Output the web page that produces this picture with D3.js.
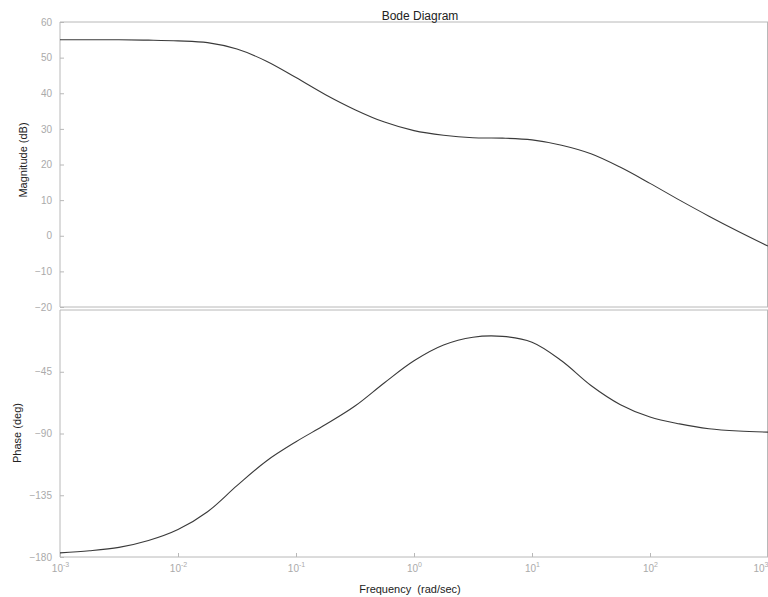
<!DOCTYPE html>
<html><head><meta charset="utf-8">
<script src="https://cdn.jsdelivr.net/npm/d3@7"></script>
<style>body{margin:0;background:#fff}svg{display:block}text{font-family:"Liberation Sans",Arial,sans-serif}</style>
</head><body><svg id="c" width="768" height="597"></svg>
<script>
const freq = [0.001,0.00178,0.00316,0.00562,0.01,0.0178,0.0316,0.0562,0.1,0.178,0.316,0.562,1,1.78,3.16,5.62,10,17.8,31.6,56.2,100,178,316,562,1000];
const magnitude = [55,55,55,54.9,54.7,54.2,52.4,49,44.4,39.6,35.4,31.9,29.5,28.2,27.5,27.4,26.9,25.4,23,19.2,14.7,10,5.5,1.2,-2.9];
const phase = [-177,-175.5,-173,-168,-160,-147,-128,-110,-96,-83.5,-70,-53,-37,-25.5,-19.8,-19.2,-23.5,-37,-55,-69,-78,-83,-86.5,-88.2,-89];
const magTicks = [60,50,40,30,20,10,0,-10,-20];
const phaseTicks = [-45,-90,-135,-180];
const freqTicks = [0.001,0.01,0.1,1,10,100,1000];

const svg = d3.select("#c");
const L = 60, R = 768;
const x = d3.scaleLog().domain([0.001,1000]).range([L,R]);
const yM = d3.scaleLinear().domain([-20,60]).range([307,22]);
const yP = d3.scaleLinear().domain([-180,0]).range([557,310]);
const axisCol = "#b8b8b8", labCol = "#aaa";

function frame(top, bot){
  const g = svg.append("g");
  g.append("line").attr("x1",L).attr("x2",R).attr("y1",top).attr("y2",top).attr("stroke",axisCol);
  g.append("line").attr("x1",L).attr("x2",R).attr("y1",bot).attr("y2",bot).attr("stroke",axisCol);
  g.append("line").attr("x1",L).attr("x2",L).attr("y1",top).attr("y2",bot).attr("stroke",axisCol);
  g.append("line").attr("x1",R-0.5).attr("x2",R-0.5).attr("y1",top).attr("y2",bot).attr("stroke",axisCol);
}
frame(yM.range()[1], yM.range()[0]);
frame(yP.range()[1], yP.range()[0]);

const ga = svg.append("g").attr("transform",`translate(${L},0)`)
  .call(d3.axisLeft(yM).tickValues(magTicks).tickSize(-4).tickPadding(8));
const gb = svg.append("g").attr("transform",`translate(${L},0)`)
  .call(d3.axisLeft(yP).tickValues(phaseTicks).tickSize(-4).tickPadding(8));
const gc = svg.append("g").attr("transform",`translate(0,557)`)
  .call(d3.axisBottom(x).tickValues(freqTicks).tickSize(-4).tickPadding(8).tickFormat(()=>""));
[ga,gb,gc].forEach(g=>{
  g.select(".domain").remove();
  g.selectAll(".tick line").attr("stroke",axisCol);
  g.selectAll(".tick text").attr("fill",labCol).attr("font-size",10).attr("font-family","Liberation Sans, Arial");
});
gc.selectAll(".tick").each(function(d,i){
  const t = d3.select(this).select("text");
  if (i === freqTicks.length-1) t.attr("text-anchor","end");
  t.append("tspan").text("10");
  t.append("tspan").attr("dy",-5).attr("font-size",7).text(Math.round(Math.log10(d)));
});

const lineM = d3.line().x((d,i)=>x(freq[i])).y(d=>yM(d)).curve(d3.curveCatmullRom);
const lineP = d3.line().x((d,i)=>x(freq[i])).y(d=>yP(d)).curve(d3.curveCatmullRom);
svg.append("path").attr("d",lineM(magnitude)).attr("fill","none").attr("stroke","#3a3a3a").attr("stroke-width",1.1);
svg.append("path").attr("d",lineP(phase)).attr("fill","none").attr("stroke","#3a3a3a").attr("stroke-width",1.1);

svg.append("text").attr("x",420).attr("y",20).attr("text-anchor","middle").attr("font-size",12).attr("fill","#222").text("Bode Diagram");
svg.append("text").attr("transform","translate(27,160) rotate(-90)").attr("text-anchor","middle").attr("font-size",11).attr("fill","#222").text("Magnitude (dB)");
svg.append("text").attr("transform","translate(21,433) rotate(-90)").attr("text-anchor","middle").attr("font-size",11).attr("fill","#222").text("Phase (deg)");
svg.append("text").attr("x",410).attr("y",593).attr("text-anchor","middle").attr("font-size",11).attr("fill","#222").attr("xml:space","preserve").text("Frequency  (rad/sec)");
</script></body></html>
